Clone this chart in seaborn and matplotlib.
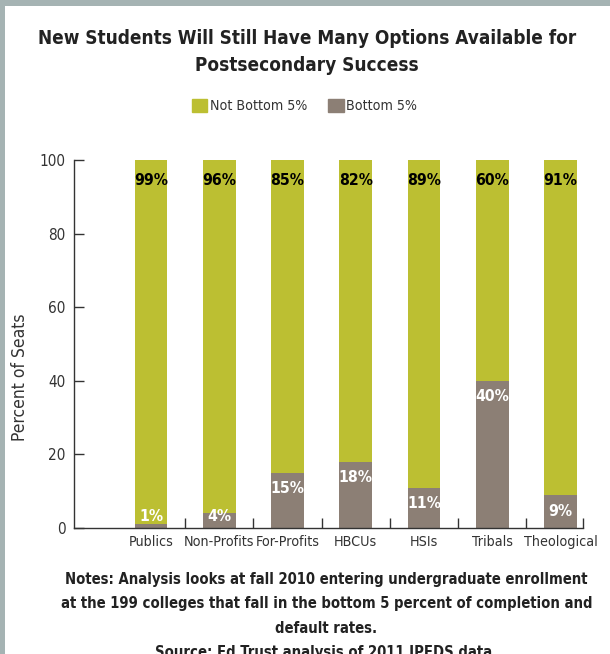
import matplotlib
matplotlib.use("Agg")
import matplotlib.pyplot as plt
import matplotlib.patches as mpatches
import pandas as pd
import seaborn as sns

# ----- datos -----
categorias = ["Publics", "Non-Profits", "For-Profits", "HBCUs", "HSIs", "Tribals", "Theological"]
not_bottom = [99, 96, 85, 82, 89, 60, 91]
bottom = [1, 4, 15, 18, 11, 40, 9]
y_ticks = [0, 20, 40, 60, 80, 100]

titulo = "New Students Will Still Have Many Options Available for\nPostsecondary Success"
notas = ("Notes: Analysis looks at fall 2010 entering undergraduate enrollment\n"
         "at the 199 colleges that fall in the bottom 5 percent of completion and\n"
         "default rates.\n"
         "Source: Ed Trust analysis of 2011 IPEDS data.")

verde = "#BCBF32"
gris = "#8C7F75"
borde = "#A5B3B3"

df = pd.DataFrame({"categoria": categorias, "not_bottom": not_bottom, "bottom": bottom})
df["total"] = df["not_bottom"] + df["bottom"]

sns.set_style("white")
plt.rcParams["font.family"] = ["Liberation Sans Narrow", "DejaVu Sans"]
plt.rcParams["font.stretch"] = "condensed"

fig = plt.figure(figsize=(6.1, 6.54), dpi=100)
fig.patch.set_facecolor(borde)
fig.patches.append(mpatches.Rectangle((5 / 610, 0), 1, 648 / 654, transform=fig.transFigure,
                                      facecolor="white", edgecolor="none", zorder=-10))

ax = fig.add_axes([74 / 610, 126 / 654, 509 / 610, 368 / 654])
ax.set_facecolor("none")

# barras apiladas: total en verde, abajo el gris
sns.barplot(data=df, x="categoria", y="total", color=verde, width=0.48,
            saturation=1, ax=ax, order=categorias, linewidth=0)
sns.barplot(data=df, x="categoria", y="bottom", color=gris, width=0.48,
            saturation=1, ax=ax, order=categorias, linewidth=0)

for i, (nb, b) in enumerate(zip(df["not_bottom"], df["bottom"])):
    ax.text(i, df["total"][i] - 5.6, f"{nb}%", ha="center", va="center",
            fontsize=11.3, fontweight="bold", color="black")
    ax.text(i, max(b - 4.4, 3.0), f"{b}%", ha="center", va="center",
            fontsize=11.3, fontweight="bold", color="white")

ax.set_xlim(-1.13, 6.33)
ax.set_ylim(0, 100)
ax.set_yticks(y_ticks)
ax.set_xlabel("")
ax.set_ylabel("Percent of Seats", fontsize=12.5, color="#333333")
ax.yaxis.set_label_coords(-0.088, 0.41)
ax.tick_params(axis="y", direction="in", length=7, width=1, color="#333333",
               labelsize=11, labelcolor="#333333", left=True, pad=6)
ax.tick_params(axis="x", length=0, labelsize=10.3, labelcolor="#333333", pad=5)
ax.set_xticks([0.5, 1.5, 2.5, 3.5, 4.5, 5.5, 6.33], minor=True)
ax.tick_params(axis="x", which="minor", direction="in", length=7, width=1,
               color="#333333", bottom=True)

for lado in ["top", "right"]:
    ax.spines[lado].set_visible(False)
for lado in ["left", "bottom"]:
    ax.spines[lado].set_color("#333333")
    ax.spines[lado].set_linewidth(1)

fig.text(0.503, 1 - 52 / 654, titulo, ha="center", va="center", fontsize=13.6,
         fontweight="bold", color="#222222", linespacing=1.48)

handles = [mpatches.Patch(color=verde, label="Not Bottom 5%"),
           mpatches.Patch(color=gris, label="Bottom 5%")]
fig.legend(handles=handles, loc="center", bbox_to_anchor=(0.499, 1 - 106 / 654), ncol=2,
           frameon=False, fontsize=10.2, handlelength=1.1, handleheight=1.1,
           handletextpad=0.15, columnspacing=1.5, labelcolor="#333333")

fig.text(0.535, 1 - 616 / 654, notas, ha="center", va="center", fontsize=10.6,
         fontweight="bold", color="#222222", linespacing=1.78)

plt.savefig("out.png", dpi=100, facecolor=fig.get_facecolor())
